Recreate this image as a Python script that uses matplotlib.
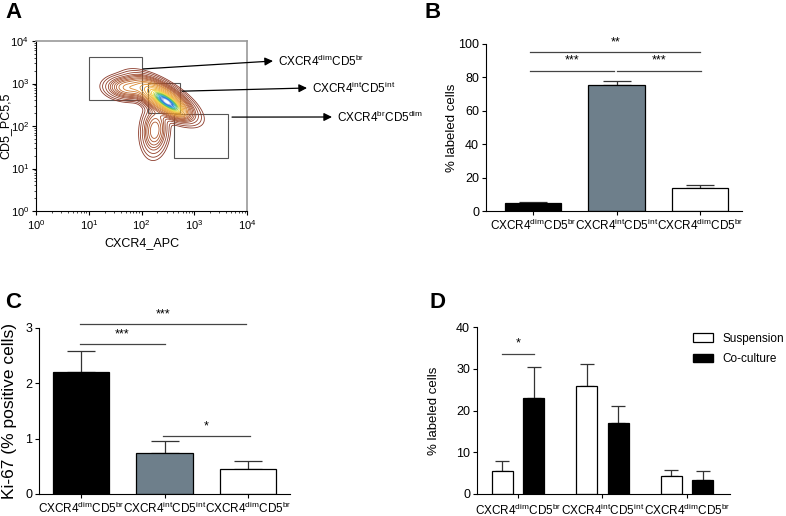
import numpy as np
import matplotlib
matplotlib.use("Agg")
import matplotlib.pyplot as plt
from matplotlib.colors import LinearSegmentedColormap
from matplotlib.patches import Patch, Rectangle
from matplotlib.ticker import LogLocator, NullFormatter, FixedLocator

plt.rcParams['font.family'] = ['Liberation Sans', 'DejaVu Sans']
plt.rcParams['mathtext.fontset'] = 'custom'
plt.rcParams['mathtext.rm'] = 'Liberation Sans'
plt.rcParams['mathtext.it'] = 'Liberation Sans'
plt.rcParams['mathtext.bf'] = 'Liberation Sans:bold'
plt.rcParams['mathtext.default'] = 'regular'

# ---- data ----
subsets_b = ['CXCR4$^{dim}$CD5$^{br}$', 'CXCR4$^{int}$CD5$^{int}$', 'CXCR4$^{dim}$CD5$^{br}$']
labeled_mean = [4.6, 75.6, 13.8]
labeled_err = [0.9, 2.0, 1.7]

ki67_mean = [2.21, 0.74, 0.45]
ki67_err = [0.37, 0.21, 0.14]

groups_d = ['CXCR4$^{dim}$CD5$^{br}$', 'CXCR4$^{int}$CD5$^{int}$', 'CXCR4$^{dim}$CD5$^{br}$']
susp_mean = [5.6, 25.9, 4.3]
susp_err = [2.4, 5.3, 1.4]
cocult_mean = [23.1, 17.0, 3.4]
cocult_err = [7.3, 4.1, 2.2]

bar_colors = ['black', '#6e7f8b', 'white']

# flow populations (log10 CXCR4, log10 CD5)
pop_cx = [2.48, 2.4, 1.75, 2.25, 2.65]
pop_cy = [2.57, 2.65, 2.9, 1.9, 2.4]
pop_sx = [0.13, 0.25, 0.2, 0.12, 0.12]
pop_sy = [0.12, 0.22, 0.13, 0.28, 0.12]
pop_rho = [-0.8, -0.7, -0.1, 0.1, -0.3]
pop_w = [1.0, 0.35, 0.09, 0.06, 0.08]

# enclosed-event fractions of the contour levels (outer -> inner)
contour_frac = [0.995, 0.99, 0.98, 0.965, 0.95, 0.93, 0.9, 0.87, 0.83, 0.79, 0.75, 0.7,
                0.65, 0.6, 0.55, 0.5, 0.45, 0.4, 0.35, 0.3, 0.25, 0.2, 0.15, 0.1, 0.06, 0.03]

gate_names = ['CXCR4$^{dim}$CD5$^{br}$', 'CXCR4$^{int}$CD5$^{int}$', 'CXCR4$^{br}$CD5$^{dim}$']
gate_x = [(10, 100), (130, 540), (420, 4350)]
gate_y = [(400, 4200), (205, 1020), (18, 190)]

W, H = 786, 516
fig = plt.figure(figsize=(W / 100, H / 100), dpi=100)


def rect(l, t, r, b):
    return [l / W, 1 - b / H, (r - l) / W, (b - t) / H]


def prism(ax):
    ax.spines['top'].set_visible(False)
    ax.spines['right'].set_visible(False)
    ax.tick_params(direction='out', length=3, width=0.8, labelsize=9, pad=2)
    ax.tick_params(axis='x', labelsize=8.5)


def sig(ax, x0, x1, y, txt, ty):
    ax.plot([x0, x1], [y, y], color='#444444', lw=0.9, clip_on=False)
    ax.text((x0 + x1) / 2, ty, txt, ha='center', va='center', fontsize=9, clip_on=False)


# ---- A ----
axA = fig.add_axes(rect(36, 41, 247, 211))
lx = np.linspace(0, 4, 500)
gx, gy = np.meshgrid(lx, lx)
dens = np.zeros_like(gx)
for cx, cy, sx, sy, r, w in zip(pop_cx, pop_cy, pop_sx, pop_sy, pop_rho, pop_w):
    u = (gx - cx) / sx
    v = (gy - cy) / sy
    dens += w * np.exp(-(u * u - 2 * r * u * v + v * v) / (2 * (1 - r * r)))
d_sorted = np.sort(dens.ravel())[::-1]
cum = np.cumsum(d_sorted) / d_sorted.sum()
levels = [d_sorted[np.searchsorted(cum, f)] for f in contour_frac]
cmap = LinearSegmentedColormap.from_list(
    'flow', [(0, '#8b3a2a'), (0.28, '#b0582e'), (0.4, '#dc8a30'), (0.55, '#f2b030'),
             (0.64, '#e6e040'), (0.72, '#5fb848'), (0.8, '#2fb5c8'), (0.9, '#1f5fd8'),
             (1.0, '#f4f8ff')])
axA.contour(10 ** gx, 10 ** gy, dens, levels=levels,
            colors=[cmap(t) for t in np.linspace(0, 1, len(levels))], linewidths=0.6)
axA.set_xscale('log')
axA.set_yscale('log')
axA.set_xlim(1, 1e4)
axA.set_ylim(1, 1e4)
for s in ['top', 'right']:
    axA.spines[s].set_color('#999999')
    axA.spines[s].set_linewidth(1.2)
axA.xaxis.set_major_locator(FixedLocator([1, 10, 100, 1000, 10000]))
axA.yaxis.set_major_locator(FixedLocator([1, 10, 100, 1000, 10000]))
axA.set_xticklabels(['$10^{%d}$' % i for i in range(5)])
axA.set_yticklabels(['$10^{%d}$' % i for i in range(5)])
axA.xaxis.set_minor_locator(LogLocator(base=10, subs=np.arange(2, 10)))
axA.yaxis.set_minor_locator(LogLocator(base=10, subs=np.arange(2, 10)))
axA.xaxis.set_minor_formatter(NullFormatter())
axA.yaxis.set_minor_formatter(NullFormatter())
axA.tick_params(which='major', direction='out', length=3, width=0.8, labelsize=8, pad=2)
axA.tick_params(which='minor', direction='out', length=1.5, width=0.5)
axA.set_xlabel('CXCR4_APC', fontsize=9, labelpad=4)
axA.set_ylabel('CD5_PC5,5', fontsize=9)
axA.yaxis.set_label_coords(-0.115, 0.5)
for (x0, x1), (y0, y1) in zip(gate_x, gate_y):
    axA.add_patch(Rectangle((x0, y0), x1 - x0, y1 - y0, fill=False, ec='#555555', lw=0.8))
arrow_start = [(107, 2200), (590, 660), (5200, 162)]
arrow_tip = [(273, 61), (307, 88), (332, 117)]
for name, st, tip in zip(gate_names, arrow_start, arrow_tip):
    axA.annotate('', xy=(tip[0] / W, 1 - tip[1] / H), xycoords='figure fraction',
                 xytext=st, textcoords='data',
                 arrowprops=dict(arrowstyle='-|>', color='black', lw=0.9,
                                 mutation_scale=12, shrinkA=0, shrinkB=0))
    fig.text((tip[0] + 5) / W, 1 - tip[1] / H, name, fontsize=8.5, ha='left', va='center')

# ---- B ----
axB = fig.add_axes(rect(486, 44, 742, 211))
xb = np.arange(len(subsets_b))
axB.bar(xb, labeled_mean, width=0.67, color=bar_colors, edgecolor='black', linewidth=0.9, zorder=2)
axB.errorbar(xb, labeled_mean, yerr=[np.zeros(3), labeled_err], fmt='none',
             ecolor='#333333', elinewidth=0.9, capsize=10, capthick=0.9, zorder=1)
prism(axB)
axB.set_xlim(-0.56, 2.5)
axB.set_ylim(0, 100)
axB.set_yticks([0, 20, 40, 60, 80, 100])
axB.set_xticks(xb)
axB.set_xticklabels(subsets_b)
axB.set_ylabel('% labeled cells', fontsize=9.5)
axB.yaxis.set_label_coords(-0.109, 0.5)
sig(axB, -0.03, 2.0, 95, '**', 101)
sig(axB, -0.03, 0.97, 84, '***', 90)
sig(axB, 1.01, 2.01, 84, '***', 90)

# ---- C ----
axC = fig.add_axes(rect(39, 328, 290, 494))
axC.bar(xb, ki67_mean, width=0.67, color=bar_colors, edgecolor='black', linewidth=0.9, zorder=2)
axC.errorbar(xb, ki67_mean, yerr=[np.zeros(3), ki67_err], fmt='none',
             ecolor='#333333', elinewidth=0.9, capsize=10, capthick=0.9, zorder=1)
prism(axC)
axC.set_xlim(-0.5, 2.5)
axC.set_ylim(0, 3)
axC.set_yticks([0, 1, 2, 3])
axC.set_xticks(xb)
axC.set_xticklabels(subsets_b)
axC.set_ylabel('Ki-67 (% positive cells)', fontsize=12.5)
axC.yaxis.set_label_coords(-0.088, 0.5)
sig(axC, -0.01, 1.97, 3.08, '***', 3.25)
sig(axC, -0.01, 1.0, 2.71, '***', 2.88)
sig(axC, 0.98, 2.02, 1.05, '*', 1.22)

# ---- D ----
axD = fig.add_axes(rect(477, 327, 730, 494))
xd = np.arange(len(groups_d))
off = 0.185
axD.bar(xd - off, susp_mean, width=0.25, color='white', edgecolor='black', linewidth=0.9,
        zorder=2, label='Suspension')
axD.bar(xd + off, cocult_mean, width=0.25, color='black', edgecolor='black', linewidth=0.9,
        zorder=2, label='Co-culture')
axD.errorbar(xd - off, susp_mean, yerr=[np.zeros(3), susp_err], fmt='none',
             ecolor='#333333', elinewidth=0.9, capsize=5, capthick=0.9, zorder=1)
axD.errorbar(xd + off, cocult_mean, yerr=[np.zeros(3), cocult_err], fmt='none',
             ecolor='#333333', elinewidth=0.9, capsize=5, capthick=0.9, zorder=1)
prism(axD)
axD.set_xlim(-0.485, 2.51)
axD.set_ylim(0, 40)
axD.set_yticks([0, 10, 20, 30, 40])
axD.set_xticks(xd)
axD.set_xticklabels(groups_d)
axD.tick_params(axis='x', pad=3)
axD.set_ylabel('% labeled cells', fontsize=9.5)
axD.yaxis.set_label_coords(-0.146, 0.5)
sig(axD, -off, off, 33.6, '*', 36.0)
handles = [Patch(facecolor='white', edgecolor='black', lw=0.9), Patch(facecolor='black', edgecolor='black')]
axD.legend(handles, ['Suspension', 'Co-culture'], frameon=False, fontsize=8.5,
           loc='upper left', bbox_to_anchor=(682 / W, 1 - 322 / H), bbox_transform=fig.transFigure,
           handlelength=1.7, handleheight=0.7, handletextpad=0.8, labelspacing=0.75)

# panel letters
for letter, (x, y) in zip('ABCD', [(5, 12), (425, 12), (5, 302), (430, 302)]):
    fig.text(x / W, 1 - y / H, letter, fontsize=16, fontweight='bold', ha='left', va='center')

fig.savefig('out.png', dpi=100)
